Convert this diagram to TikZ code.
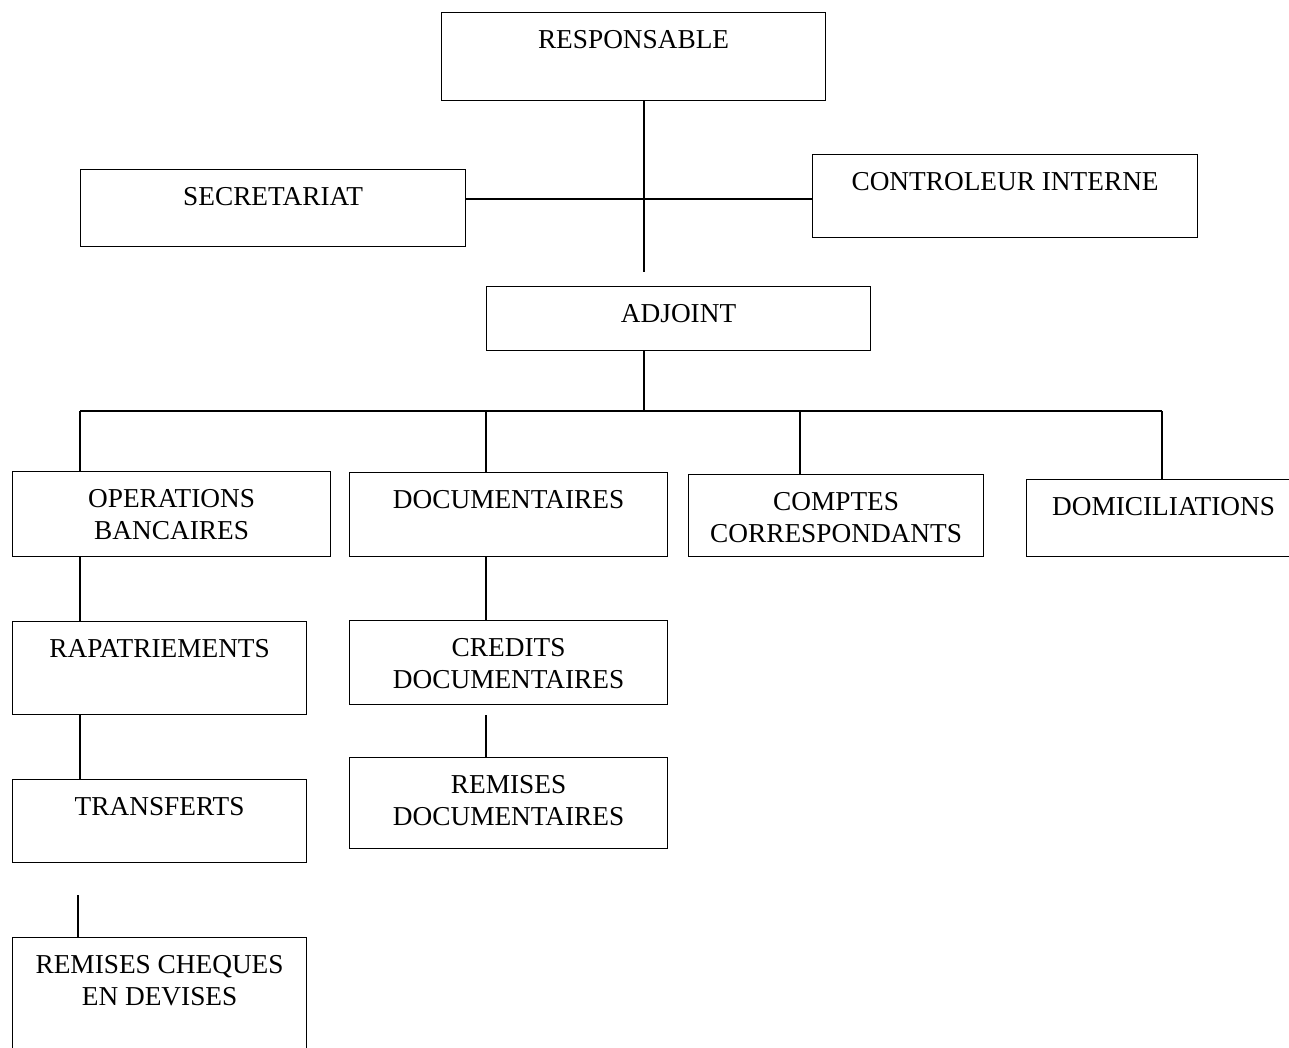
\documentclass[tikz,border=0pt]{standalone}
\usepackage{fontspec}
\setmainfont{Liberation Serif}

\begin{document}
\begin{tikzpicture}[x=1pt,y=-1pt,line width=1.2pt,
    unit/.style={draw, rectangle, inner sep=0pt, anchor=north west},
    unitlabel/.style={anchor=north, inner sep=0pt, align=center, font=\fontsize{27.3}{32}\selectfont}]
    \useasboundingbox (0,0) rectangle (1289,1048);
    % boxes: name/left/top/width/height/text
    \foreach \n/\x/\y/\w/\h/\txt in {resp/441/12/384/88/RESPONSABLE,
        secr/80/169/385/77/SECRETARIAT,
        ctrl/812/154/385/83/CONTROLEUR INTERNE,
        adj/486/286/384/64/ADJOINT,
        opb/12/471/318/85/{OPERATIONS\\BANCAIRES},
        doc/349/472/318/84/DOCUMENTAIRES,
        cpt/688/474/295/82/{COMPTES\\CORRESPONDANTS},
        dom/1026/479/274/77/DOMICILIATIONS,
        rap/12/621/294/93/RAPATRIEMENTS,
        trf/12/779/294/83/TRANSFERTS,
        rcd/12/937/294/123/{REMISES CHEQUES\\EN DEVISES},
        cred/349/620/318/84/{CREDITS\\DOCUMENTAIRES},
        rdoc/349/757/318/91/{REMISES\\DOCUMENTAIRES}} {
        \node[unit, minimum width=\w pt, minimum height=\h pt] (\n) at (\x,\y) {};
        \node[unitlabel] (\n-t) at ([yshift=-18pt]\n.north) {\txt};
    }
    % connectors
    \coordinate (top) at (644,272);
    \coordinate (hub) at (644,199);
    \coordinate (bus) at (644,411);
    \draw (resp.south -| top) -- (top);
    \draw (secr.east |- hub) -- (ctrl.west |- hub);
    \draw (adj.south -| bus) -- (bus);
    \coordinate (c1) at (80,411);
    \coordinate (c2) at (486,411);
    \coordinate (c3) at (800,411);
    \coordinate (c4) at (1162,411);
    \draw (c1) -- (c4);
    \foreach \c/\n in {c1/opb, c2/doc, c3/cpt, c4/dom}
        \draw (\c) -- (\c |- \n.north);
    \draw (opb.south -| c1) -- (rap.north -| c1);
    \draw (rap.south -| c1) -- (trf.north -| c1);
    \coordinate (trfgap) at (78,895);
    \draw (trfgap) -- (rcd.north -| trfgap);
    \draw (doc.south -| c2) -- (cred.north -| c2);
    \coordinate (credgap) at (486,715);
    \draw (credgap) -- (rdoc.north -| credgap);
\end{tikzpicture}
\end{document}
